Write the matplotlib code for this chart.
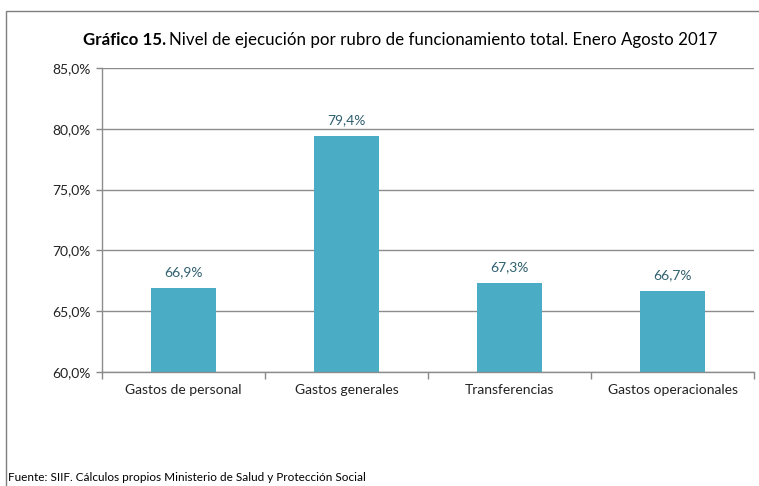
import matplotlib
matplotlib.use("Agg")
import matplotlib.pyplot as plt
from matplotlib.patches import Rectangle
from matplotlib.ticker import FixedLocator

categories = ["Gastos de personal", "Gastos generales", "Transferencias", "Gastos operacionales"]
values = [66.9, 79.4, 67.3, 66.7]
yticks = [60, 65, 70, 75, 80, 85]
ytick_labels = ["60,0%", "65,0%", "70,0%", "75,0%", "80,0%", "85,0%"]

W, H = 759, 486
fig = plt.figure(figsize=(W / 100, H / 100), dpi=100)
fam = ["Lato", "DejaVu Sans"]

# outer frame
fig.patches.append(Rectangle((5.5 / W, -0.1), 1.1, 1 - 10.5 / H + 0.1, transform=fig.transFigure,
                             fill=False, edgecolor="#7f7f7f", linewidth=1.0))

ax = fig.add_axes([102 / W, 1 - 372 / H, 652 / W, 304 / H])
x = list(range(len(categories)))
ax.bar(x, values, width=0.4, color="#4BACC6", bottom=0, zorder=3)
ax.set_ylim(60, 85)
ax.set_xlim(-0.5, len(categories) - 0.5)
ax.set_yticks(yticks)
ax.set_yticklabels(ytick_labels, family=fam, fontsize=10, color="#222222")
ax.set_xticks(x)
ax.set_xticklabels(categories, family=fam, fontsize=10, color="#222222")
ax.xaxis.set_minor_locator(FixedLocator([i - 0.5 for i in range(len(categories) + 1)]))
ax.tick_params(axis="x", which="major", length=0, pad=9)
ax.tick_params(axis="x", which="minor", length=5, color="#888888", width=1)
ax.tick_params(axis="y", length=4, color="#888888", width=1, pad=4)
ax.grid(axis="y", color="#8c8c8c", linewidth=1.0, zorder=0)
for s in ["top", "right"]:
    ax.spines[s].set_visible(False)
for s in ["left", "bottom"]:
    ax.spines[s].set_color("#8c8c8c")
    ax.spines[s].set_linewidth(1.0)
    ax.spines[s].set_zorder(4)

for xi, v in zip(x, values):
    ax.annotate(f"{v:.1f}%".replace(".", ","), (xi, v), xytext=(0, 7), textcoords="offset points",
                ha="center", va="bottom", family=fam, fontsize=10, color="#2F5F6F")

# title with bold prefix
t1 = fig.text(83 / W, 1 - 40 / H, "Gráfico 15.", family=fam, fontweight="bold", fontsize=12.2,
              ha="left", va="center", color="#000000")
fig.canvas.draw()
bb = t1.get_window_extent()
fig.text((bb.x1 + 3) / W, 1 - 40 / H, "Nivel de ejecución por rubro de funcionamiento total. Enero Agosto 2017",
         family=fam, fontsize=12.2, ha="left", va="center", color="#000000")

fig.text(8 / W, 1 - 477 / H, "Fuente: SIIF. Cálculos propios Ministerio de Salud y Protección Social",
         family=["Liberation Sans Narrow", "Lato", "DejaVu Sans"], fontsize=8.5, ha="left", va="center",
         color="#000000")

fig.savefig("out.png", dpi=100)
